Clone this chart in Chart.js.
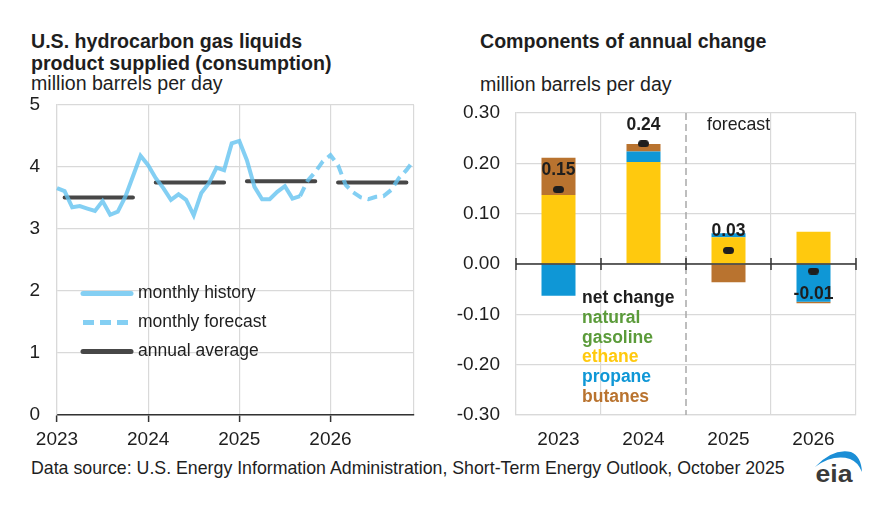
<!DOCTYPE html>
<html><head><meta charset="utf-8">
<script src="https://cdn.jsdelivr.net/npm/chart.js@4.4.1/dist/chart.umd.min.js"></script>
<style>
html,body{margin:0;padding:0;background:#fff;width:891px;height:511px;overflow:hidden;font-family:"Liberation Sans",Arial,sans-serif;color:#1e1e1e}
.t{position:absolute;white-space:nowrap}
.b{font-weight:bold;font-size:19.6px;line-height:22px}
.r{font-size:19.6px;line-height:22px}
#c1{position:absolute;left:0;top:95px}
#c2{position:absolute;left:440px;top:95px}
</style></head><body>
<div class="t b" style="left:31px;top:30px">U.S. hydrocarbon gas liquids<br>product supplied (consumption)</div>
<div class="t r" style="left:31px;top:71.5px">million barrels per day</div>
<div class="t b" style="left:480px;top:30px">Components of annual change</div>
<div class="t r" style="left:480px;top:73px">million barrels per day</div>
<div class="t" style="left:31px;top:458px;font-size:17.75px;line-height:20px">Data source: U.S. Energy Information Administration, Short-Term Energy Outlook, October 2025</div>
<svg style="position:absolute;left:805px;top:445px" width="70" height="50" viewBox="805 445 70 50">
  <path d="M815,467 Q833,448 851,452 Q861,456 862,472 Q858,462 850,459 Q833,454 815,467 Z" fill="#1b8ed6"/>
  <text x="815.5" y="482" font-family="Liberation Sans, Arial, sans-serif" font-weight="bold" font-size="24" fill="#3a3a3a" textLength="37" lengthAdjust="spacingAndGlyphs">eia</text>
</svg>
<canvas id="c1" width="440" height="360"></canvas>
<canvas id="c2" width="451" height="360"></canvas>
<script>
// ---------- data ----------
const years = ['2023', '2024', '2025', '2026'];
const monthlyHistory = [
  3.66, 3.61, 3.35, 3.37, 3.33, 3.29, 3.45, 3.23, 3.28, 3.52, 3.85, 4.18,
  4.03, 3.82, 3.66, 3.47, 3.56, 3.47, 3.22, 3.58, 3.74, 3.99, 3.95, 4.38,
  4.42, 4.11, 3.68, 3.48, 3.48, 3.60, 3.69, 3.49, 3.53
];
const monthlyForecast = [
  3.78, 3.92, 4.09,
  4.19, 4.03, 3.71, 3.59, 3.51, 3.48, 3.52, 3.53, 3.63, 3.82, 3.95, 4.11
];
const annualAverage = [3.51, 3.75, 3.77, 3.75];
const leftLegendLabels = ['monthly history', 'monthly forecast', 'annual average'];

const naturalGasoline = [0, 0, 0, 0];
const ethane = [0.137, 0.2025, 0.053, 0.064];
const propane = [-0.063, 0.021, 0.008, -0.075];
const butanes = [0.074, 0.015, -0.0365, -0.003];
const netChange = [0.148, 0.239, 0.027, -0.014];
const rightLegendLabels = ['net change', 'natural', 'gasoline', 'ethane', 'propane', 'butanes'];
const forecastLabel = 'forecast';

// ---------- styles ----------
const FONT = '"Liberation Sans", Arial, sans-serif';
const TXT = '#1e1e1e';
const GRID = '#d9d9d9';
const BLUE_LINE = 'rgba(100,195,240,0.8)';
const BLUE_LEG = '#84cff3';
const AVG = '#474747';
const C_NG = '#5b9b3a', C_ETH = '#ffc90e', C_PRO = '#0f97d6', C_BUT = '#b9732f';
const CLEAR = 'rgba(0,0,0,0)';

function noPad(s) { s.paddingTop = 0; s.paddingBottom = 0; s.paddingLeft = 0; s.paddingRight = 0; }

// ---------- left chart ----------
const monthLabels = [];
years.forEach(y => { for (let m = 1; m <= 12; m++) monthLabels.push(y + '-' + m); });
const nMonths = monthLabels.length;
const histData = monthLabels.map((_, i) => i < monthlyHistory.length ? monthlyHistory[i] : null);
const fcStart = monthlyHistory.length - 1;
const fcData = monthLabels.map((_, i) => {
  if (i === fcStart) return monthlyHistory[fcStart];
  if (i > fcStart) return monthlyForecast[i - fcStart - 1];
  return null;
});
const avgData = monthLabels.map((_, i) => {
  const m = i % 12;
  return (m >= 1 && m <= 10) ? annualAverage[Math.floor(i / 12)] : null;
});

const leftLegend = {
  id: 'leftLegend',
  afterDraw(chart) {
    const { ctx, chartArea: a } = chart;
    const styles = [
      { c: BLUE_LEG, w: 5, d: [] },
      { c: BLUE_LEG, w: 5, d: [11, 6] },
      { c: AVG, w: 5, d: [] }
    ];
    ctx.save();
    ctx.font = '17.5px ' + FONT;
    ctx.textBaseline = 'middle';
    leftLegendLabels.forEach((lab, i) => {
      const y = a.top + 188.5 + i * 29;
      ctx.beginPath();
      ctx.strokeStyle = styles[i].c;
      ctx.lineWidth = styles[i].w;
      ctx.lineCap = i === 1 ? 'butt' : 'round';
      ctx.setLineDash(styles[i].d);
      ctx.moveTo(a.left + 26, y);
      ctx.lineTo(a.left + 74, y);
      ctx.stroke();
      ctx.setLineDash([]);
      ctx.fillStyle = TXT;
      ctx.fillText(lab, a.left + 81, y);
    });
    ctx.restore();
  }
};

new Chart(document.getElementById('c1'), {
  type: 'line',
  data: {
    labels: monthLabels,
    datasets: [
      { data: histData, borderColor: BLUE_LINE, borderWidth: 4, pointRadius: 0, order: 0, spanGaps: false },
      { data: fcData, borderColor: BLUE_LINE, borderWidth: 4, borderDash: [10, 6], pointRadius: 0, order: 0, spanGaps: false },
      { data: avgData, borderColor: AVG, borderWidth: 4, borderCapStyle: 'round', pointRadius: 0, order: 1, spanGaps: false }
    ]
  },
  options: {
    responsive: false,
    animation: false,
    events: [],
    layout: { padding: { top: 10, right: 26, left: 0, bottom: 0 } },
    plugins: { legend: { display: false }, tooltip: { enabled: false } },
    scales: {
      x: {
        afterFit(s) { s.height = 40; noPad(s); },
        ticks: {
          autoSkip: false, maxRotation: 0, padding: 6,
          font: { size: 19, family: FONT }, color: TXT,
          callback: (v, i) => i % 12 === 0 ? years[i / 12] : ''
        },
        grid: {
          color: c => (c.index % 12 === 0 || c.index === nMonths - 1) ? GRID : CLEAR,
          tickColor: c => c.index % 12 === 0 ? '#333' : CLEAR,
          tickLength: 7, lineWidth: 1.2, tickWidth: 1.5
        },
        border: { color: '#333', width: 1.5 }
      },
      y: {
        min: 0, max: 5,
        afterFit(s) { s.width = 57; noPad(s); },
        ticks: { stepSize: 1, padding: 17, font: { size: 19, family: FONT }, color: TXT },
        grid: { color: GRID, lineWidth: 1.2, drawTicks: false },
        border: { color: GRID, width: 1.2 }
      }
    }
  },
  plugins: [leftLegend]
});

// ---------- right chart ----------
const dot = document.createElement('canvas');
dot.width = 11; dot.height = 7;
(function () {
  const g = dot.getContext('2d');
  g.fillStyle = '#1e1e1e';
  g.beginPath();
  g.roundRect(0, 0, 11, 7, 3.5);
  g.fill();
})();

const rightDecor = {
  id: 'rightDecor',
  beforeDatasetsDraw(chart) {
    const { ctx, chartArea: a, scales: { x } } = chart;
    const step = x.getPixelForValue(1) - x.getPixelForValue(0);
    const xd = x.getPixelForValue(1) + step / 2;
    ctx.save();
    ctx.strokeStyle = '#a9a9a9';
    ctx.lineWidth = 1.5;
    ctx.setLineDash([7, 4]);
    ctx.beginPath();
    ctx.moveTo(xd, a.top);
    ctx.lineTo(xd, a.bottom);
    ctx.stroke();
    ctx.setLineDash([]);
    ctx.fillStyle = TXT;
    ctx.font = '17.75px ' + FONT;
    ctx.textBaseline = 'middle';
    ctx.fillText(forecastLabel, xd + 21, a.top + 12.5);
    ctx.restore();
  },
  afterDatasetsDraw(chart) {
    const { ctx, chartArea: a, scales: { x, y } } = chart;
    const y0 = y.getPixelForValue(0);
    const step = x.getPixelForValue(1) - x.getPixelForValue(0);
    ctx.save();
    ctx.strokeStyle = '#333';
    ctx.lineWidth = 1.5;
    ctx.beginPath();
    ctx.moveTo(a.left, y0);
    ctx.lineTo(a.right, y0);
    for (let i = 0; i <= years.length; i++) {
      const xb = x.getPixelForValue(0) - step / 2 + i * step;
      ctx.moveTo(xb, y0 - 6);
      ctx.lineTo(xb, y0 + 6);
    }
    ctx.stroke();
    // net change labels
    ctx.font = 'bold 17.5px ' + FONT;
    ctx.textAlign = 'center';
    ctx.textBaseline = 'middle';
    ctx.fillStyle = TXT;
    netChange.forEach((v, i) => {
      const px = x.getPixelForValue(i);
      const py = y.getPixelForValue(v);
      ctx.fillText(v.toFixed(2), px, v >= 0 ? py - 19 : py + 23);
    });
    // legend text
    const cols = [TXT, C_NG, C_NG, C_ETH, C_PRO, C_BUT];
    ctx.textAlign = 'left';
    rightLegendLabels.forEach((lab, i) => {
      ctx.fillStyle = cols[i];
      ctx.fillText(lab, a.left + 66, a.top + 185.5 + i * 19.7);
    });
    ctx.restore();
  }
};

const barBase = { type: 'bar', stack: 'c', barPercentage: 0.4, categoryPercentage: 1, borderWidth: 0, order: 1 };
new Chart(document.getElementById('c2'), {
  type: 'bar',
  data: {
    labels: years,
    datasets: [
      Object.assign({ label: 'natural gasoline', data: naturalGasoline, backgroundColor: C_NG }, barBase),
      Object.assign({ label: 'ethane', data: ethane, backgroundColor: C_ETH }, barBase),
      Object.assign({ label: 'propane', data: propane, backgroundColor: C_PRO }, barBase),
      Object.assign({ label: 'butanes', data: butanes, backgroundColor: C_BUT }, barBase),
      { type: 'line', label: 'net change', data: netChange, stack: 'net', showLine: false,
        pointStyle: dot, pointRadius: 6, order: 0 }
    ]
  },
  options: {
    responsive: false,
    animation: false,
    events: [],
    layout: { padding: { top: 18, right: 35, left: 0, bottom: 0 } },
    plugins: { legend: { display: false }, tooltip: { enabled: false } },
    scales: {
      x: {
        stacked: true,
        afterFit(s) { s.height = 40; noPad(s); },
        ticks: { padding: 13, font: { size: 19, family: FONT }, color: TXT },
        grid: { offset: true, color: c => c.index === 2 ? CLEAR : GRID, lineWidth: 1.2, drawTicks: false },
        border: { color: GRID, width: 1.2 }
      },
      y: {
        stacked: true,
        min: -0.3, max: 0.3,
        afterFit(s) { s.width = 76; noPad(s); },
        ticks: {
          stepSize: 0.1, padding: 16, font: { size: 19, family: FONT }, color: TXT,
          callback: v => Math.abs(v) < 1e-9 ? '0.00' : v.toFixed(2)
        },
        grid: { color: GRID, lineWidth: 1.2, drawTicks: false },
        border: { color: GRID, width: 1.2 }
      }
    }
  },
  plugins: [rightDecor]
});
</script>
</body></html>
